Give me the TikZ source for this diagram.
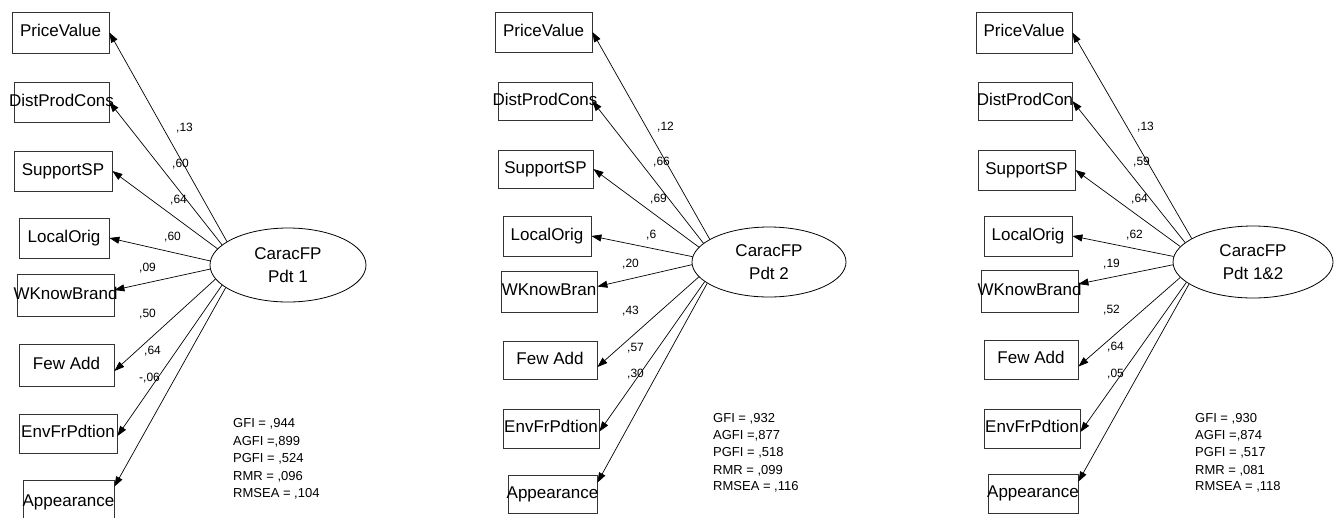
\documentclass[tikz,border=0pt]{standalone}
\usepackage{fontspec}
\setmainfont{Liberation Sans}
\usetikzlibrary{shapes.geometric,arrows.meta}

\tikzset{
  obs/.style={draw=black!80, line width=0.8pt, rectangle, inner sep=0pt,
              text height=12pt, text depth=3.5pt, font=\fontsize{17}{20}\selectfont},
  latent/.style={draw=black, line width=0.8pt, ellipse, inner sep=0pt, align=center,
                 font=\fontsize{17}{23}\selectfont},
  load/.style={draw=black, line width=0.7pt, -{Triangle[length=10pt,width=7pt]}},
  coef/.style={font=\fontsize{12}{14}\selectfont, inner sep=0pt, anchor=base west},
  fitstat/.style={font=\fontsize{13}{15}\selectfont, inner sep=0pt, anchor=base west},
}

% observed variable box given by its corners (x1,y1) (x2,y2); label may overflow
\newcommand{\obsbox}[6]{%
  \node[obs, minimum width={(#4-#2)*1pt}, minimum height={(#5-#3)*1pt}]
    (#1) at ({(#2+#4)/2},{(#3+#5)/2}) {\makebox[0pt]{#6}};}

\begin{document}
\begin{tikzpicture}[x=1pt, y=-1pt]
\path[use as bounding box] (0,0) rectangle (1337,517);
\clip (0,0) rectangle (1337,517);

% ---------------- Model 1 ----------------
\obsbox{a1}{12}{12}{109}{53}{PriceValue}
\obsbox{a2}{14}{82}{109}{122}{DistProdCons}
\obsbox{a3}{14}{151}{112}{191}{SupportSP}
\obsbox{a4}{19}{218}{109}{258}{LocalOrig}
\obsbox{a5}{17}{274}{114}{316}{WKnowBrand}
\obsbox{a6}{19}{344}{114}{386}{Few Add}
\obsbox{a7}{19}{414}{117}{453}{EnvFrPdtion}
\obsbox{a8}{23}{480}{114}{525}{Appearance}
\node[latent, minimum width=156pt, minimum height=74pt] (ea) at (288,265) {CaracFP\\Pdt 1};

\draw[load] (ea.159) -- (a1.east);
\draw[load] (ea.163) -- (a2.east);
\draw[load] (ea.167) -- (a3.east);
\draw[load] (ea.177) -- (a4.east);
\draw[load] (ea.183) -- ([yshift=5pt]a5.east);
\draw[load] (ea.191) -- ([yshift=-6pt]a6.east);
\draw[load] (ea.197) -- ([yshift=-2.5pt]a7.east);
\draw[load] (ea.200) -- ([yshift=-7pt]a8.north east);

\node[coef] (la1) at (176,131) {,13};
\node[coef] (la2) at (172,167) {,60};
\node[coef] (la3) at (170,203) {,64};
\node[coef] (la4) at (164,240) {,60};
\node[coef] (la5) at (139,271) {,09};
\node[coef] (la6) at (139,317) {,50};
\node[coef] (la7) at (144,354) {,64};
\node[coef] (la8) at (139,381) {-,06};

\node[fitstat] (fa1) at (233,427.3) {GFI = ,944};
\node[fitstat] (fa2) at (233,445) {AGFI =,899};
\node[fitstat] (fa3) at (233,462.7) {PGFI = ,524};
\node[fitstat] (fa4) at (233,480) {RMR = ,096};
\node[fitstat] (fa5) at (233,497.3) {RMSEA = ,104};

% ---------------- Model 2 ----------------
\obsbox{b1}{495}{12}{592}{52}{PriceValue}
\obsbox{b2}{498}{82}{592}{120}{DistProdCons}
\obsbox{b3}{498}{150}{593}{188}{SupportSP}
\obsbox{b4}{503}{216}{591}{256}{LocalOrig}
\obsbox{b5}{501}{271}{597}{312}{WKnowBran}
\obsbox{b6}{503}{341}{597}{379}{Few Add}
\obsbox{b7}{503}{409}{599}{448}{EnvFrPdtion}
\obsbox{b8}{508}{475}{597}{513}{Appearance}
\node[latent, minimum width=154pt, minimum height=70pt] (eb) at (769,262) {CaracFP\\Pdt 2};

\draw[load] (eb.159) -- (b1.east);
\draw[load] (eb.164) -- (b2.east);
\draw[load] (eb.168) -- (b3.east);
\draw[load] (eb.176) -- (b4.east);
\draw[load] (eb.182) -- ([yshift=5pt]b5.east);
\draw[load] (eb.192) -- ([yshift=-7pt]b6.east);
\draw[load] (eb.197) -- ([yshift=-3pt]b7.east);
\draw[load] (eb.199) -- ([yshift=-8pt]b8.north east);

\node[coef] (lb1) at (657,130) {,12};
\node[coef] (lb2) at (653,165) {,66};
\node[coef] (lb3) at (650,202) {,69};
\node[coef] (lb4) at (646,238) {,6};
\node[coef] (lb5) at (622,267) {,20};
\node[coef] (lb6) at (622,314) {,43};
\node[coef] (lb7) at (627,351) {,57};
\node[coef] (lb8) at (627,377) {,30};

\node[fitstat] (fb1) at (713,422.3) {GFI = ,932};
\node[fitstat] (fb2) at (713,439.5) {AGFI =,877};
\node[fitstat] (fb3) at (713,456.7) {PGFI = ,518};
\node[fitstat] (fb4) at (713,474) {RMR = ,099};
\node[fitstat] (fb5) at (713,490.7) {RMSEA = ,116};

% ---------------- Model 1&2 ----------------
\obsbox{c1}{976}{12}{1072}{53}{PriceValue}
\obsbox{c2}{978}{82}{1072}{120}{DistProdCon}
\obsbox{c3}{978}{150}{1075}{190}{SupportSP}
\obsbox{c4}{984}{216}{1072}{256}{LocalOrig}
\obsbox{c5}{981}{270}{1078}{312}{WKnowBrand}
\obsbox{c6}{984}{340}{1078}{379}{Few Add}
\obsbox{c7}{984}{409}{1080}{448}{EnvFrPdtion}
\obsbox{c8}{988}{474}{1078}{513}{Appearance}
\node[latent, minimum width=160pt, minimum height=72pt] (ec) at (1253,262) {CaracFP\\Pdt 1\&2};

\draw[load] (ec.159) -- (c1.east);
\draw[load] (ec.164) -- (c2.east);
\draw[load] (ec.168) -- (c3.east);
\draw[load] (ec.176) -- (c4.east);
\draw[load] (ec.182) -- ([yshift=7pt]c5.east);
\draw[load] (ec.192) -- ([yshift=-7pt]c6.east);
\draw[load] (ec.197) -- ([yshift=-3.5pt]c7.east);
\draw[load] (ec.199) -- ([yshift=-8pt]c8.north east);

\node[coef] (lc1) at (1137,130) {,13};
\node[coef] (lc2) at (1133,165) {,59};
\node[coef] (lc3) at (1131,202) {,64};
\node[coef] (lc4) at (1126,238) {,62};
\node[coef] (lc5) at (1103,267) {,19};
\node[coef] (lc6) at (1103,313) {,52};
\node[coef] (lc7) at (1107,350) {,64};
\node[coef] (lc8) at (1107,377) {,05};

\node[fitstat] (fc1) at (1195,422.3) {GFI = ,930};
\node[fitstat] (fc2) at (1195,439.5) {AGFI =,874};
\node[fitstat] (fc3) at (1195,456.7) {PGFI = ,517};
\node[fitstat] (fc4) at (1195,474) {RMR = ,081};
\node[fitstat] (fc5) at (1195,490.7) {RMSEA = ,118};
\end{tikzpicture}
\end{document}
